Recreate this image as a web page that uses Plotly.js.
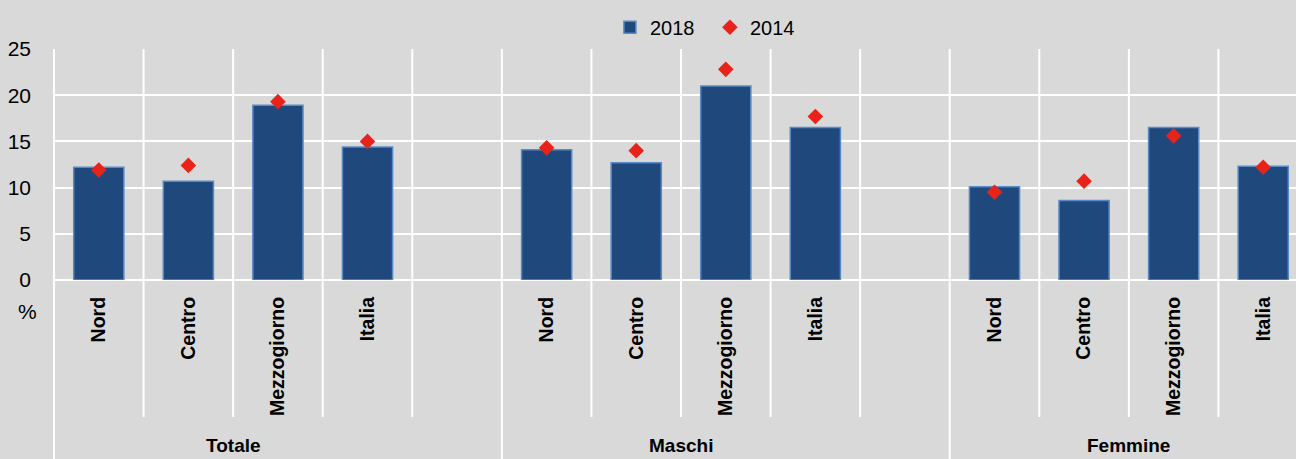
<!DOCTYPE html>
<html>
<head>
<meta charset="utf-8">
<script src="https://cdn.plot.ly/plotly-3.0.1.min.js"></script>
<style>html,body{margin:0;padding:0;background:#d9d9d9;}#chart{width:1296px;height:459px;}</style>
</head>
<body>
<div id="chart"></div>
<script>
const groups = ['Totale', 'Maschi', 'Femmine'];
const regions = ['Nord', 'Centro', 'Mezzogiorno', 'Italia'];
const values2018 = [12.2, 10.7, 18.9, 14.4, 14.1, 12.7, 21.0, 16.5, 10.1, 8.6, 16.5, 12.3];
const values2014 = [11.9, 12.4, 19.3, 15.0, 14.3, 14.0, 22.8, 17.7, 9.5, 10.7, 15.6, 12.2];
const yTicks = [0, 5, 10, 15, 20, 25];

const FONT = '"Liberation Sans", Arial, sans-serif';
const slotsPerGroup = regions.length + 1;
const xs = [], labels = [];
groups.forEach((g, gi) => regions.forEach((r, ri) => { xs.push(gi * slotsPerGroup + ri); labels.push(r); }));

const r0 = -0.5, r1 = 13.366;
const px = v => (v - r0) / (r1 - r0);

const shapes = [];
const innerBottom = -0.593, fullBottom = -0.78;
const nSlots = groups.length * slotsPerGroup - 1;
for (let b = 0; b <= nSlots; b++) {
  const pos = b - 0.5;
  if (pos > r1) break;
  const isGroup = (b % slotsPerGroup === 0);
  shapes.push({type: 'line', xref: 'paper', yref: 'paper', x0: px(pos), x1: px(pos), y0: isGroup ? fullBottom : innerBottom, y1: 1,
    line: {color: '#ffffff', width: 2}, layer: 'below'});
}

const annotations = groups.map((g, gi) => ({
  text: g, xref: 'paper', yref: 'paper', x: px(gi * slotsPerGroup + 1.5), y: -0.715,
  xanchor: 'center', yanchor: 'middle', showarrow: false,
  font: {family: FONT, size: 19, color: '#000', weight: 'bold'}
}));
annotations.push({text: '%', xref: 'paper', yref: 'paper', x: -0.0217, y: -0.138, xanchor: 'center', yanchor: 'middle',
  showarrow: false, font: {family: FONT, size: 21, color: '#000'}});

const traces = [
  {type: 'bar', name: '2018', x: xs, y: values2018, width: 0.56,
   marker: {color: '#1f497d', line: {color: '#5a8ac6', width: 1.5}}},
  {type: 'scatter', mode: 'markers', name: '2014', x: xs, y: values2014,
   marker: {symbol: 'diamond', size: 12, color: '#e8231a', line: {width: 0}}}
];

const layout = {
  width: 1296, height: 459,
  margin: {l: 54, r: 0, t: 49, b: 179},
  paper_bgcolor: '#d9d9d9', plot_bgcolor: '#d9d9d9',
  font: {family: FONT, color: '#000'},
  showlegend: true,
  legend: {orientation: 'h', x: 0.4476, xanchor: 'left', y: 1.01, yanchor: 'bottom', entrywidth: 55, entrywidthmode: 'pixels',
    font: {family: FONT, size: 20, color: '#000'}, bgcolor: 'rgba(0,0,0,0)', traceorder: 'normal'},
  xaxis: {range: [r0, r1], tickmode: 'array', tickvals: xs, ticktext: labels, tickangle: -90,
    showgrid: false, zeroline: false, showline: false, ticks: '', ticklabelstandoff: 12,
    tickfont: {family: FONT, size: 19.5, color: '#000', weight: 'bold'}, fixedrange: true},
  yaxis: {range: [0, 25], tickmode: 'array', tickvals: yTicks, showgrid: true, gridcolor: '#ffffff', gridwidth: 2,
    zeroline: true, zerolinecolor: '#ffffff', zerolinewidth: 2, showline: false, ticks: '',
    ticklabelstandoff: 22, tickfont: {family: FONT, size: 21, color: '#000'}, fixedrange: true},
  shapes: shapes,
  annotations: annotations,
  bargap: 0.44
};

Plotly.newPlot('chart', traces, layout, {displayModeBar: false, staticPlot: true});
</script>
</body>
</html>
